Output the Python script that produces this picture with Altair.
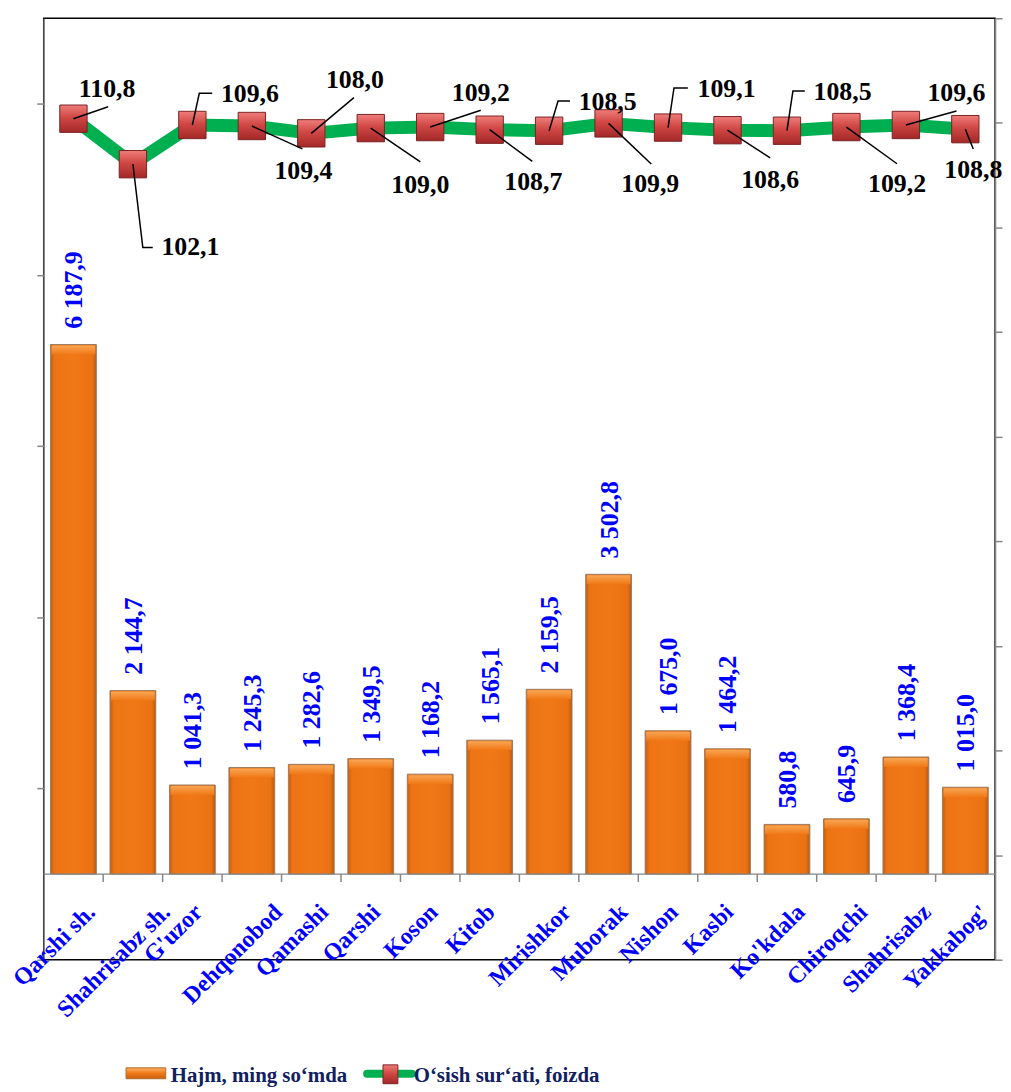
import altair as alt
import pandas as pd

# ---------------- data ----------------
categories = ["Qarshi sh.", "Shahrisabz sh.", "G'uzor", "Dehqonobod", "Qamashi", "Qarshi",
              "Koson", "Kitob", "Mirishkor", "Muborak", "Nishon", "Kasbi", "Ko'kdala",
              "Chiroqchi", "Shahrisabz", "Yakkabog'"]
volume = [6187.9, 2144.7, 1041.3, 1245.3, 1282.6, 1349.5, 1168.2, 1565.1,
          2159.5, 3502.8, 1675.0, 1464.2, 580.8, 645.9, 1368.4, 1015.0]
growth = [110.8, 102.1, 109.6, 109.4, 108.0, 109.0, 109.2, 108.7,
          108.5, 109.9, 109.1, 108.6, 108.5, 109.2, 109.6, 108.8]
series_names = ["Hajm, ming so\u2018mda", "O\u2018sish sur\u2018ati, foizda"]

# ---------------- style ----------------
W, H = 959, 949
X_DOM = [-0.5, 15.5]
YL_DOM = [-1000, 10000]
YR_DOM = [-50, 130]
PX_X = W / (X_DOM[1] - X_DOM[0])
PX_YL = H / (YL_DOM[1] - YL_DOM[0])
PX_YR = H / (YR_DOM[1] - YR_DOM[0])
BAR_HALF = 0.385

FONT = "Liberation Serif"
GREEN = "#00B050"
BLUE = "#0000FF"
GRAY = "#868686"
NAVY = "#102060"

# label offsets (px, right / down) from each marker centre
LBL_DX = [34, 58, 58, 52, 44, 50, 51, 44, 59, 42, 59, 43, 56, 51, 51, 8]
LBL_DY = [-30, 84, -31, 45, -54, 57, -34, 53, -29, 61, -39, 50, -39, 57, -32, 41]
# leader-line end (px) and optional horizontal elbow tail
LEAD_DX = [35, 10, 7, 51, 43, 50, 51, 43, 9, 43, 6, 43, 6, 51, 51, 8]
LEAD_DY = [-12, 84, -32, 23, -36, 34, -17, 32, -30, 41, -40, 28, -40, 37, -14, 20]
ELBOW = [0, 10, 13, 0, 0, 0, 0, 0, 12, 0, 14, 0, 12, 0, 0, 0]

CAT_FS = 24
TIMES_BOLD = {"Q": 778, "a": 500, "r": 444, "s": 389, "h": 556, "i": 278, " ": 250, ".": 250,
              "S": 556, "b": 556, "z": 444, "G": 778, "'": 278, "u": 556, "o": 500, "D": 722,
              "e": 444, "q": 556, "n": 556, "d": 556, "m": 833, "K": 778, "t": 333, "M": 944,
              "k": 556, "N": 722, "C": 722, "c": 444, "Y": 722, "g": 500, "l": 278, "p": 556}


def text_len(s, fs):
    return sum(TIMES_BOLD.get(ch, 500) for ch in s) / 1000.0 * fs


def fmt(v):
    return f"{v:,.1f}".replace(",", " ").replace(".", ",")


BAR_GRAD = {"gradient": "linear", "x1": 0, "x2": 1, "y1": 0, "y2": 0,
            "stops": [{"offset": 0, "color": "#c65e0e"}, {"offset": 0.09, "color": "#ec7414"},
                      {"offset": 0.5, "color": "#f07816"}, {"offset": 0.91, "color": "#ea7213"},
                      {"offset": 1, "color": "#bb580c"}]}
CAP_GRAD = {"gradient": "linear", "x1": 0, "x2": 0, "y1": 0, "y2": 1,
            "stops": [{"offset": 0, "color": "#f9a552"}, {"offset": 1, "color": "#f07816"}]}
PT_GRAD = {"gradient": "linear", "x1": 0, "x2": 0, "y1": 0, "y2": 1,
           "stops": [{"offset": 0, "color": "#ef7d7a"}, {"offset": 0.45, "color": "#d04845"},
                     {"offset": 1, "color": "#a32828"}]}
LEG_BAR_GRAD = {"gradient": "linear", "x1": 0, "x2": 0, "y1": 0, "y2": 1,
                "stops": [{"offset": 0, "color": "#fbb062"}, {"offset": 0.5, "color": "#f07a18"},
                          {"offset": 1, "color": "#c8600e"}]}


def X(field):
    return alt.X(field, type="quantitative",
                 scale=alt.Scale(domain=X_DOM, nice=False, zero=False), axis=None)


LEFT_AXIS = alt.Axis(orient="left", values=[-1000, 1000, 3000, 5000, 7000, 9000], labels=False,
                     title=None, grid=False, tickSize=7, tickColor=GRAY, tickWidth=1.5,
                     domainColor=GRAY, domainWidth=1.5)
RIGHT_AXIS = alt.Axis(orient="right", values=list(range(-50, 131, 20)), labels=False,
                      title=None, grid=False, tickSize=7, tickColor=GRAY, tickWidth=1.5,
                      domainColor=GRAY, domainWidth=1.5)


def YL(field):
    return alt.Y(field, type="quantitative",
                 scale=alt.Scale(domain=YL_DOM, nice=False, zero=False), axis=LEFT_AXIS)


def YR(field):
    return alt.Y(field, type="quantitative",
                 scale=alt.Scale(domain=YR_DOM, nice=False, zero=False), axis=RIGHT_AXIS)


# ---------------- tables ----------------
bars = pd.DataFrame({"i": list(range(len(categories))), "name": categories, "vol": volume})
bars["x0"] = bars["i"] - BAR_HALF
bars["x1"] = bars["i"] + BAR_HALF
bars["zero"] = 0.0
bars["label"] = [fmt(v) for v in volume]
bars["cx"] = bars["i"] - 19 / PX_X
bars["cy"] = [-(28 + 0.354 * (text_len(n, CAT_FS) + 0.8 * CAT_FS)) / PX_YL for n in categories]

base = pd.DataFrame({"x0": [X_DOM[0]], "x1": [X_DOM[1]], "y": [0.0]})
ticks = pd.DataFrame({"xb": [k + 0.5 for k in range(len(categories) - 1)],
                      "y": [0.0] * (len(categories) - 1)})

line = pd.DataFrame({"i": list(range(len(growth))), "g": growth,
                     "label": [fmt(v) for v in growth]})
line["lx"] = [k + LBL_DX[k] / PX_X for k in range(len(growth))]
line["ly"] = [growth[k] - LBL_DY[k] / PX_YR for k in range(len(growth))]

rows = []
for k in range(len(growth)):
    pts = [(0, 0), (LEAD_DX[k], LEAD_DY[k])]
    if ELBOW[k]:
        pts.append((LEAD_DX[k] + ELBOW[k], LEAD_DY[k]))
    for j, (ox, oy) in enumerate(pts):
        rows.append({"id": k, "k": j, "lx": k + ox / PX_X, "ly": growth[k] - oy / PX_YR})
leaders = pd.DataFrame(rows)

one = pd.DataFrame({"a": [0]})

# ---------------- left (volume) group ----------------
bar_layer = alt.Chart(bars).mark_rect(fill=BAR_GRAD, stroke="#9c7b63", strokeWidth=1).encode(
    x=X("x0"), x2="x1", y=YL("vol"), y2="zero")
cap_layer = alt.Chart(bars).mark_rect(fill=CAP_GRAD, y2Offset=10, xOffset=1, x2Offset=-1,
                                      yOffset=1).encode(
    x=X("x0"), x2="x1", y=YL("vol"), y2="vol")
bar_text = alt.Chart(bars).mark_text(angle=270, align="left", baseline="middle", font=FONT,
                                     fontSize=26, fontWeight="bold", color=BLUE,
                                     yOffset=-16, xOffset=1).encode(
    x=X("i"), y=YL("vol"), text="label")
base_rule = alt.Chart(base).mark_rule(color=GRAY, strokeWidth=1.5).encode(
    x=X("x0"), x2="x1", y=YL("y"))
tick_rule = alt.Chart(ticks).mark_rule(color=GRAY, strokeWidth=1.5, y2Offset=8).encode(
    x=X("xb"), y=YL("y"), y2="y")
cat_text = alt.Chart(bars).mark_text(angle=315, align="center", baseline="middle", font=FONT,
                                     fontSize=CAT_FS, fontWeight="bold", color=BLUE).encode(
    x=X("cx"), y=YL("cy"), text="name")

left_group = alt.layer(bar_layer, cap_layer, bar_text, base_rule, tick_rule, cat_text)

# ---------------- right (growth) group ----------------
line_layer = alt.Chart(line).mark_line(color=GREEN, strokeWidth=13).encode(x=X("i"), y=YR("g"))
pt_layer = alt.Chart(line).mark_square(size=760, fill=PT_GRAD, stroke="#7a2222",
                                       strokeWidth=1, opacity=1).encode(x=X("i"), y=YR("g"))
lead_layer = alt.Chart(leaders).mark_line(color="black", strokeWidth=1.5).encode(
    x=X("lx"), y=YR("ly"), detail="id:N", order="k:Q")
lbl_layer = alt.Chart(line).mark_text(align="center", baseline="middle", font=FONT, fontSize=26,
                                      fontWeight="bold", color="black").encode(
    x=X("lx"), y=YR("ly"), text="label")

right_group = alt.layer(line_layer, pt_layer, lead_layer, lbl_layer)

# ---------------- legend ----------------
leg1 = alt.Chart(one).mark_rect(fill=LEG_BAR_GRAD, stroke="#b06a2a", strokeWidth=1).encode(
    x=alt.value(83), x2=alt.value(123), y=alt.value(1058), y2=alt.value(1069))
leg1t = alt.Chart(one).mark_text(align="left", baseline="alphabetic", font=FONT, fontSize=21,
                                 fontWeight="bold", color=NAVY, text=series_names[0]).encode(
    x=alt.value(128), y=alt.value(1072))
leg2l = alt.Chart(one).mark_rule(color=GREEN, strokeWidth=8, strokeCap="round").encode(
    x=alt.value(326), x2=alt.value(371), y=alt.value(1064))
leg2p = alt.Chart(one).mark_rect(fill=PT_GRAD, stroke="#7a2222", strokeWidth=1).encode(
    x=alt.value(342), x2=alt.value(357), y=alt.value(1055), y2=alt.value(1074))
leg2t = alt.Chart(one).mark_text(align="left", baseline="alphabetic", font=FONT, fontSize=21,
                                 fontWeight="bold", color=NAVY, text=series_names[1]).encode(
    x=alt.value(373), y=alt.value(1072))

chart = alt.layer(left_group, right_group, leg1, leg1t, leg2l, leg2p, leg2t).resolve_scale(
    y="independent").resolve_axis(y="independent").properties(
    width=W, height=H,
    padding={"left": 36, "top": 6, "right": 8, "bottom": 129},
    autosize=alt.AutoSizeParams(type="none"),
    background="white",
).configure_view(stroke="black", strokeWidth=1.5)

chart.save("out.html", embed_options={"renderer": "svg", "actions": False})
